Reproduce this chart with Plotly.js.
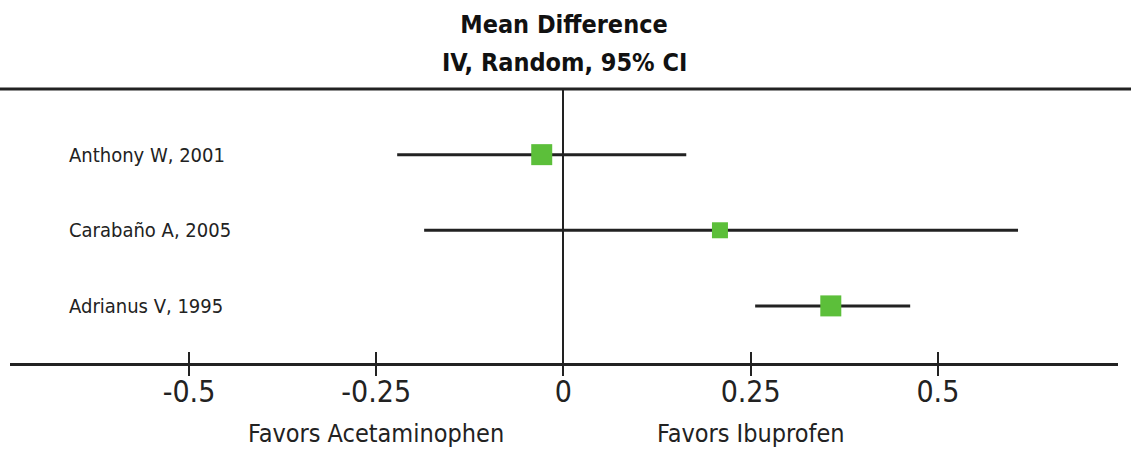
<!DOCTYPE html>
<html>
<head>
<meta charset="utf-8">
<script src="https://cdn.plot.ly/plotly-3.0.1.min.js"></script>
<style>html,body{margin:0;padding:0;background:#fff;}#chart{width:1131px;height:451px;}</style>
</head>
<body>
<div id="chart"></div>
<script>
const studies = ["Anthony W, 2001", "Carabaño A, 2005", "Adrianus V, 1995"];
const meanDiff = [-0.029, 0.209, 0.357];
const ciLow = [-0.222, -0.186, 0.256];
const ciHigh = [0.164, 0.607, 0.463];
const markerSizes = [21, 16, 21];
const tickVals = [-0.5, -0.25, 0, 0.25, 0.5];
const tickText = ["-0.5", "-0.25", "0", "0.25", "0.5"];
const favorLabels = ["Favors Acetaminophen", "Favors Ibuprofen"];
const favorPos = [-0.25, 0.25];
const titleLines = ["Mean Difference", "IV, Random, 95% CI"];

const FONT = "Liberation Sans Narrow, Arial Narrow, DejaVu Sans Condensed, sans-serif";
const ink = "#222";

const trace = {
  type: "scatter",
  mode: "markers",
  x: meanDiff,
  y: studies,
  marker: {symbol: "square", color: "#5cbf3a", size: markerSizes, opacity: 1, line: {width: 0}},
  error_x: {
    type: "data", symmetric: false,
    array: ciHigh.map((h, i) => h - meanDiff[i]),
    arrayminus: ciLow.map((l, i) => meanDiff[i] - l),
    width: 0, thickness: 3, color: ink
  },
  hoverinfo: "skip",
  showlegend: false
};
const ghost = {type: "scatter", mode: "none", x: [0], y: [studies[0]], xaxis: "x2", showlegend: false, hoverinfo: "skip"};

const annotations = studies.map(s => ({
  text: s, xref: "paper", x: 0.0514, xanchor: "left", yref: "y", y: s, yanchor: "middle",
  showarrow: false, font: {family: FONT, size: 20, color: ink}
})).concat(favorLabels.map((t, i) => ({
  text: t, xref: "x", x: favorPos[i], xanchor: "center", yref: "paper", y: -0.256, yanchor: "middle",
  showarrow: false, font: {family: FONT, size: 25, color: ink}
}))).concat([{
  text: "<b>" + titleLines[1] + "</b>", xref: "paper", x: 0.5, xanchor: "center",
  yref: "paper", y: 1 + (89 - 62) / 274, yanchor: "middle",
  showarrow: false, font: {family: FONT, size: 25, color: "#111"}
}]);

const range = [-0.739, 0.7405];
const layout = {
  width: 1131, height: 451,
  margin: {l: 10, r: 13, t: 89, b: 88},
  paper_bgcolor: "#fff", plot_bgcolor: "#fff",
  title: {
    text: "<b>" + titleLines[0] + "</b>",
    x: 0.5, xref: "paper", xanchor: "center",
    y: 1 - 24 / 451, yref: "container", yanchor: "middle",
    font: {family: FONT, size: 25, color: "#111"}
  },
  xaxis: {
    range: range, tickvals: tickVals, ticktext: tickText,
    ticks: "inside", ticklen: 11, tickwidth: 2, tickcolor: ink,
    showline: true, linewidth: 3, linecolor: ink,
    showgrid: false, zeroline: true, zerolinewidth: 2, zerolinecolor: ink,
    tickfont: {family: FONT, size: 30, color: ink},
    fixedrange: true
  },
  xaxis2: {
    range: range, tickvals: tickVals, overlaying: "x", side: "bottom",
    ticks: "outside", ticklen: 12, tickwidth: 2, tickcolor: ink,
    showticklabels: false, showline: false, showgrid: false, zeroline: false
  },
  yaxis: {
    type: "category", categoryarray: studies, range: [2.755, -0.868],
    showticklabels: false, showgrid: false, zeroline: false, showline: false, ticks: ""
  },
  shapes: [{
    type: "line", xref: "paper", yref: "paper",
    x0: -10 / 1108, x1: 1.02, y0: 1, y1: 1,
    line: {color: ink, width: 3}
  }],
  annotations: annotations
};

Plotly.newPlot("chart", [ghost, trace], layout, {displayModeBar: false, staticPlot: true});
</script>
</body>
</html>
